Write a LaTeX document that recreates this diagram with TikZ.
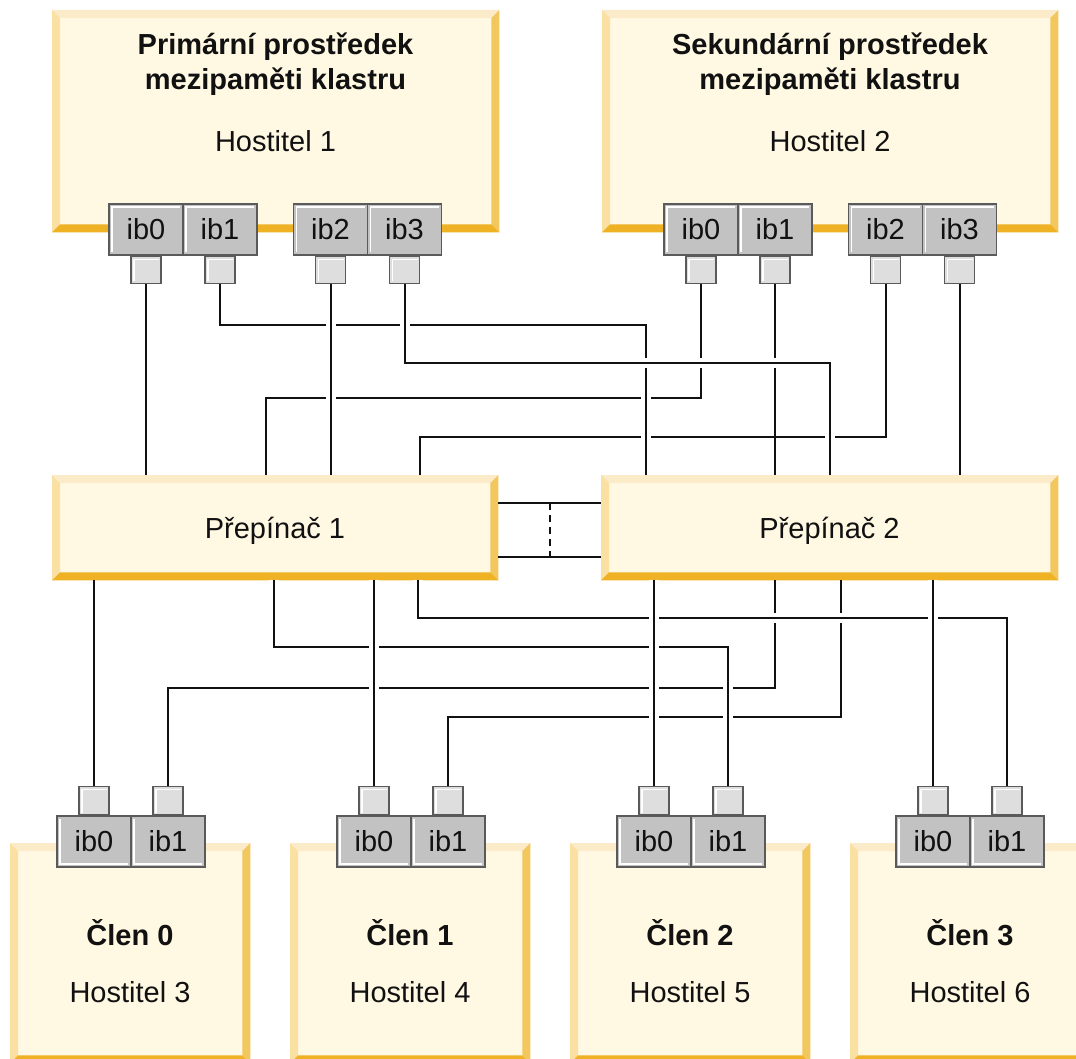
\documentclass[tikz,border=0pt]{standalone}
\usepackage{fontspec}
\setmainfont{Liberation Sans}
\usetikzlibrary{calc}

\definecolor{boxfill}{HTML}{FFF8E2}
\definecolor{bevtop}{HTML}{FCEBC8}
\definecolor{bevleft}{HTML}{FAE0A2}
\definecolor{bevright}{HTML}{F2C75E}
\definecolor{bevbot}{HTML}{EEB224}
\definecolor{portfill}{HTML}{C2C2C2}
\definecolor{portline}{HTML}{5A5A5A}
\definecolor{plugfill}{HTML}{DEDEDE}
\definecolor{ink}{HTML}{111111}

\tikzset{
  every node/.style={font=\fontsize{29}{35}\selectfont, text=ink},
  hostbox/.style={rectangle, fill=boxfill, draw=none, inner sep=0pt},
  portbox/.style={rectangle, draw=portline, line width=1.5pt, fill=portfill,
    minimum width=74pt, minimum height=51pt, inner sep=0pt},
  porttop/.style={portbox, path picture={
    \draw[white, line width=1.2pt]
      ([shift={(3,-3)}]path picture bounding box.south west) --
      ([shift={(3,3)}]path picture bounding box.north west) --
      ([shift={(-3,3)}]path picture bounding box.north east);}},
  portbot/.style={portbox, path picture={
    \draw[white, line width=1.2pt]
      ([shift={(3,3)}]path picture bounding box.north west) --
      ([shift={(3,-3)}]path picture bounding box.south west) --
      ([shift={(-3,-3)}]path picture bounding box.south east);}},
  plug/.style={rectangle, draw=portline, line width=1.5pt, fill=plugfill,
    minimum width=30pt, minimum height=27pt, inner sep=0pt, path picture={
    \draw[white, line width=1.2pt]
      ([shift={(3,-2)}]path picture bounding box.south west) --
      ([shift={(3,3)}]path picture bounding box.north west) --
      ([shift={(-2,3)}]path picture bounding box.north east);}},
  wire/.style={draw=ink, line width=2pt},
  wireover/.style={preaction={draw=white, line width=10pt}},
  linkdash/.style={draw=ink, line width=2pt, dash pattern=on 7pt off 5pt},
  title/.style={font=\fontsize{29}{35}\selectfont\bfseries, anchor=base},
  label/.style={anchor=base},
}

\newcommand\bevbox[5]{%
  \node[hostbox, minimum width=#4pt, minimum height=#5pt, anchor=north west] (#1) at (#2,#3) {};
  \fill[bevtop] (#1.north west) -- (#1.north east) -- ([shift={(-8,8)}]#1.north east) -- ([shift={(8,8)}]#1.north west) -- cycle;
  \fill[bevleft] (#1.north west) -- ([shift={(8,8)}]#1.north west) -- ([shift={(8,-8)}]#1.south west) -- (#1.south west) -- cycle;
  \fill[bevright] (#1.north east) -- (#1.south east) -- ([shift={(-8,-8)}]#1.south east) -- ([shift={(-8,8)}]#1.north east) -- cycle;
  \fill[bevbot] (#1.south west) -- (#1.south east) -- ([shift={(-8,-8)}]#1.south east) -- ([shift={(8,-8)}]#1.south west) -- cycle;
}

\begin{document}
\begin{tikzpicture}[x=1pt, y=-1pt]
\useasboundingbox (0,0) rectangle (1076,1059);
\clip (0,0) rectangle (1076,1059);
\fill[white] (0,0) rectangle (1076,1059);

% ---------- boxes ----------
\bevbox{h1}{52}{10}{447}{222}
\bevbox{h2}{602}{10}{456}{222}
\bevbox{s1}{52}{475}{446}{105}
\bevbox{s2}{601}{475}{457}{105}
\bevbox{m0}{10}{843}{240}{220}
\bevbox{m1}{290}{843}{240}{220}
\bevbox{m2}{570}{843}{240}{220}
\bevbox{m3}{850}{843}{240}{220}

% ---------- texts ----------
\node[title] (h1t1) at (275.5,55) {Primární prostředek};
\node[title] (h1t2) at (275.5,90) {mezipaměti klastru};
\node[label] (h1t3) at (275.5,152) {Hostitel 1};
\node[title] (h2t1) at (830,55) {Sekundární prostředek};
\node[title] (h2t2) at (830,90) {mezipaměti klastru};
\node[label] (h2t3) at (830,152) {Hostitel 2};
\node[label] (s1t) at (275,538) {Přepínač 1};
\node[label] (s2t) at (829.5,538) {Přepínač 2};
\node[title] (m0t1) at (130,945) {Člen 0};
\node[label] (m0t2) at (130,1002) {Hostitel 3};
\node[title] (m1t1) at (410,945) {Člen 1};
\node[label] (m1t2) at (410,1002) {Hostitel 4};
\node[title] (m2t1) at (690,945) {Člen 2};
\node[label] (m2t2) at (690,1002) {Hostitel 5};
\node[title] (m3t1) at (970,945) {Člen 3};
\node[label] (m3t2) at (970,1002) {Hostitel 6};

% ---------- ports (top hosts) ----------
\node[porttop] (h1p0) at (146,229.5) {ib0};
\node[porttop] (h1p1) at (220,229.5) {ib1};
\node[porttop] (h1p2) at (330.5,229.5) {ib2};
\node[porttop] (h1p3) at (404.5,229.5) {ib3};
\node[porttop] (h2p0) at (701,229.5) {ib0};
\node[porttop] (h2p1) at (775,229.5) {ib1};
\node[porttop] (h2p2) at (885.5,229.5) {ib2};
\node[porttop] (h2p3) at (959.5,229.5) {ib3};
\foreach \n in {h1p0,h1p1,h1p2,h1p3,h2p0,h2p1,h2p2,h2p3}{
  \node[plug, anchor=north] (\n s) at (\n.south) {};
}

% ---------- ports (members) ----------
\node[portbot] (m0p0) at (94,841.5) {ib0};
\node[portbot] (m0p1) at (168,841.5) {ib1};
\node[portbot] (m1p0) at (374,841.5) {ib0};
\node[portbot] (m1p1) at (448,841.5) {ib1};
\node[portbot] (m2p0) at (654,841.5) {ib0};
\node[portbot] (m2p1) at (728,841.5) {ib1};
\node[portbot] (m3p0) at (933,841.5) {ib0};
\node[portbot] (m3p1) at (1007,841.5) {ib1};
\foreach \n in {m0p0,m0p1,m1p0,m1p1,m2p0,m2p1,m3p0,m3p1}{
  \node[plug, anchor=south, minimum height=28pt] (\n s) at (\n.north) {};
}

% ---------- upper wiring ----------
\draw[wire] (h2p2s.south) -- ++(0,153) -| ($(s1.north west)+(368,0)$);
\draw[wire] (h2p0s.south) -- ++(0,114) -| ($(s1.north west)+(214,0)$);
\draw[wire] (h2p1s.south) -- (h2p1s.south |- s2.north);
\draw[wire] (h1p0s.south) -- (h1p0s.south |- s1.north);
\draw[wire] (h2p3s.south) -- (h2p3s.south |- s2.north);
\draw[wire, wireover] (h1p1s.south) -- ++(0,41) -| ($(s2.north west)+(45,0)$);
\draw[wire, wireover] (h1p2s.south) -- (h1p2s.south |- s1.north);
\draw[wire, wireover] (h1p3s.south) -- ++(0,79) -| ($(s2.north west)+(229,0)$);

% ---------- switch interlink ----------
\draw[wire] ($(s1.east)+(0,-24.5)$) -- ($(s2.west)+(0,-24.5)$);
\draw[wire] ($(s1.east)+(0,29.5)$) -- ($(s2.west)+(0,29.5)$);
\coordinate (lk) at ($(s1.east)!0.5!(s2.west)$);
\draw[linkdash] ($(lk)+(0,-24.5)$) -- ($(lk)+(0,29.5)$);

% ---------- lower wiring ----------
\draw[wire] ($(s2.south west)+(174,0)$) -- ++(0,108) -| (m0p1s.north);
\draw[wire] ($(s2.south west)+(240,0)$) -- ++(0,137) -| (m1p1s.north);
\draw[wire] (m0p0s.north |- s1.south) -- (m0p0s.north);
\draw[wire, wireover] ($(s1.south west)+(366,0)$) -- ++(0,38) -| (m3p1s.north);
\draw[wire, wireover] ($(s1.south west)+(222,0)$) -- ++(0,67) -| (m2p1s.north);
\draw[wire, wireover] (m1p0s.north |- s1.south) -- (m1p0s.north);
\draw[wire, wireover] (m2p0s.north |- s2.south) -- (m2p0s.north);
\draw[wire, wireover] (m3p0s.north |- s2.south) -- (m3p0s.north);
\end{tikzpicture}
\end{document}
